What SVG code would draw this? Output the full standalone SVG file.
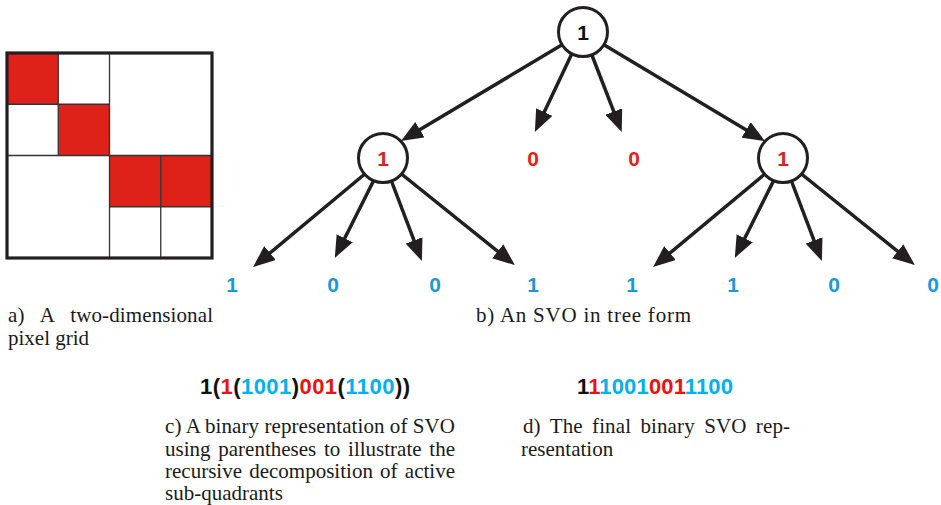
<svg xmlns="http://www.w3.org/2000/svg" width="941" height="505" viewBox="0 0 941 505">
<style>
.cap{font-family:"Liberation Serif","Times New Roman",serif;font-size:21px;fill:#1a1a1a}
.dig{font-family:"Liberation Sans",Arial,sans-serif;font-weight:bold;font-size:21px;text-anchor:middle}
.bin{font-family:"Liberation Sans",Arial,sans-serif;font-weight:bold;font-size:22px}
.k{fill:#111}.r{fill:#E0241B}.b{fill:#1C98D8}
.sr{fill:#EE1111}.sb{fill:#00B0F0}
.edge{stroke:#231F20;stroke-width:3.5;fill:none;marker-end:url(#ah)}
.node{fill:#fff;stroke:#231F20;stroke-width:3}
.thin{stroke:#333;stroke-width:1.3}
.cell{fill:#DE2219}
</style>
<defs>
<marker id="ah" markerUnits="userSpaceOnUse" markerWidth="22" markerHeight="18" viewBox="0 0 22 18" refX="10" refY="9" orient="auto">
<path d="M0,0 L22,9 L0,18 z" fill="#231F20"/>
</marker>
</defs>
<rect width="941" height="505" fill="#fff"/>

<g id="grid">
<rect class="cell" x="7" y="53" width="51.25" height="51.25"/>
<rect class="cell" x="58.25" y="104.25" width="51.25" height="51.25"/>
<rect class="cell" x="109.5" y="155.5" width="51.25" height="51.25"/>
<rect class="cell" x="160.75" y="155.5" width="51.25" height="51.25"/>
<line class="thin" x1="58.25" y1="53" x2="58.25" y2="155.5"/>
<line class="thin" x1="7" y1="104.25" x2="109.5" y2="104.25"/>
<line class="thin" x1="109.5" y1="53" x2="109.5" y2="258"/>
<line class="thin" x1="7" y1="155.5" x2="212" y2="155.5"/>
<line class="thin" x1="160.75" y1="155.5" x2="160.75" y2="258"/>
<line class="thin" x1="109.5" y1="206.75" x2="212" y2="206.75"/>
<rect x="7" y="53" width="205" height="205" fill="none" stroke="#231F20" stroke-width="3.2"/>
</g>

<g id="connectors">
<line class="edge" x1="570" y1="40" x2="411.3" y2="134.8"/>
<line class="edge" x1="576" y1="45" x2="540" y2="121.1"/>
<line class="edge" x1="588" y1="45" x2="617.4" y2="120.9"/>
<line class="edge" x1="596" y1="40" x2="754.7" y2="135"/>
<line class="edge" x1="372" y1="168" x2="262.3" y2="259.4"/>
<line class="edge" x1="378" y1="172" x2="340.2" y2="247.2"/>
<line class="edge" x1="388" y1="172" x2="417.6" y2="249.8"/>
<line class="edge" x1="394" y1="168" x2="505.5" y2="257.6"/>
<line class="edge" x1="772" y1="168" x2="662.3" y2="259.4"/>
<line class="edge" x1="778" y1="172" x2="740.2" y2="247.2"/>
<line class="edge" x1="788" y1="172" x2="817.6" y2="249.8"/>
<line class="edge" x1="794" y1="168" x2="905.5" y2="257.6"/>
</g>

<g id="root">
<circle class="node" cx="583" cy="32" r="24.5"/>
<text class="dig k" x="583" y="39.5">1</text>
</g>
<g id="n-left">
<circle class="node" cx="383" cy="158" r="24.5"/>
<text class="dig r" x="383" y="166">1</text>
</g>
<g id="n-zero1"><text class="dig r" x="533" y="166">0</text></g>
<g id="n-zero2"><text class="dig r" x="634" y="166">0</text></g>
<g id="n-right">
<circle class="node" cx="783" cy="158" r="24.5"/>
<text class="dig r" x="783" y="166">1</text>
</g>
<g id="leaf1"><text class="dig b" x="232" y="292">1</text></g>
<g id="leaf2"><text class="dig b" x="333" y="292">0</text></g>
<g id="leaf3"><text class="dig b" x="435" y="292">0</text></g>
<g id="leaf4"><text class="dig b" x="533" y="292">1</text></g>
<g id="leaf5"><text class="dig b" x="632" y="292">1</text></g>
<g id="leaf6"><text class="dig b" x="733" y="292">1</text></g>
<g id="leaf7"><text class="dig b" x="834" y="292">0</text></g>
<g id="leaf8"><text class="dig b" x="933" y="292">0</text></g>

<g id="cap-a">
<text class="cap" x="8" y="321.5" word-spacing="11" textLength="205" lengthAdjust="spacing">a) A two-dimensional</text>
<text class="cap" x="8" y="344.5">pixel grid</text>
</g>
<g id="cap-b">
<text class="cap" x="476" y="322" textLength="215" lengthAdjust="spacing">b) An SVO in tree form</text>
</g>

<g id="bin-c">
<text class="bin" x="200" y="394" textLength="210" lengthAdjust="spacing"><tspan class="k">1(</tspan><tspan class="sr">1</tspan><tspan class="k">(</tspan><tspan class="sb">1001</tspan><tspan class="k">)</tspan><tspan class="sr">001</tspan><tspan class="k">(</tspan><tspan class="sb">1100</tspan><tspan class="k">))</tspan></text>
</g>
<g id="bin-d">
<text class="bin" x="577" y="394" textLength="156" lengthAdjust="spacing"><tspan class="k">1</tspan><tspan class="sr">1</tspan><tspan class="sb">1001</tspan><tspan class="sr">001</tspan><tspan class="sb">1100</tspan></text>
</g>

<g id="cap-c">
<text class="cap" x="165" y="433" textLength="290" lengthAdjust="spacing">c) A binary representation of SVO</text>
<text class="cap" x="165" y="455.5" word-spacing="2.5" textLength="290" lengthAdjust="spacing">using parentheses to illustrate the</text>
<text class="cap" x="165" y="478" word-spacing="2" textLength="290" lengthAdjust="spacing">recursive decomposition of active</text>
<text class="cap" x="165" y="500">sub-quadrants</text>
</g>
<g id="cap-d">
<text class="cap" x="523" y="433" word-spacing="4" textLength="267" lengthAdjust="spacing">d) The final binary SVO rep-</text>
<text class="cap" x="521" y="455.5">resentation</text>
</g>
</svg>
